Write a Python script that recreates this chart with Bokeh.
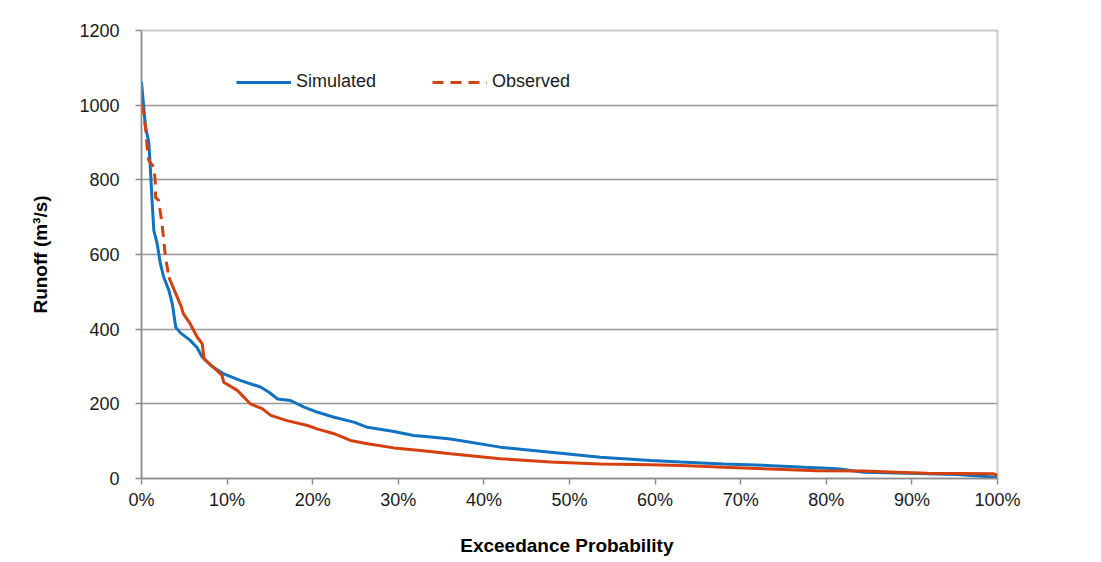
from bokeh.plotting import figure
from bokeh.models import Legend, LegendItem, NumeralTickFormatter, FixedTicker, Range1d
from bokeh.embed import file_html
from bokeh.resources import INLINE

# Exceedance probability (fraction) and runoff (m3/s)
sim_x = [0.0, 0.0047, 0.0085, 0.0105, 0.0125, 0.0144, 0.0183, 0.022, 0.026, 0.032, 0.036,
         0.040, 0.0455, 0.057, 0.065, 0.071, 0.081, 0.096, 0.116, 0.139, 0.149, 0.159,
         0.174, 0.190, 0.205, 0.225, 0.248, 0.264, 0.295, 0.318, 0.338, 0.361, 0.419,
         0.478, 0.536, 0.595, 0.630, 0.680, 0.731, 0.774, 0.813, 0.844, 0.894, 0.953,
         0.995, 1.0]
sim_y = [1062, 941, 901, 825, 737, 664, 629, 576, 539, 504, 468,
         405, 390, 370, 350, 325, 303, 280, 262, 245, 231, 213,
         209, 191, 178, 164, 151, 137, 126, 115, 111, 106, 84,
         70, 57, 48, 44, 39, 35, 30, 26, 17, 14, 11,
         4, 3]

obs_x = [0.0008, 0.0047, 0.0066, 0.0085, 0.0144, 0.016, 0.0164, 0.020, 0.024, 0.028,
         0.032, 0.040, 0.046, 0.049, 0.057, 0.059, 0.065, 0.071, 0.073, 0.084, 0.094,
         0.096, 0.112, 0.127, 0.141, 0.151, 0.170, 0.194, 0.205, 0.225, 0.244, 0.264,
         0.295, 0.326, 0.361, 0.419, 0.478, 0.536, 0.595, 0.630, 0.653, 0.680, 0.727,
         0.789, 0.844, 0.883, 0.918, 0.995, 1.0]
obs_y = [1004, 941, 888, 852, 834, 798, 753, 745, 682, 593,
         539, 495, 463, 441, 414, 405, 379, 361, 321, 298, 276,
         258, 236, 200, 187, 169, 155, 142, 133, 120, 102, 93,
         82, 75, 66, 53, 44, 39, 37, 35, 33, 30, 26,
         21, 20, 17, 14, 13, 8]

y_ticks = [0, 200, 400, 600, 800, 1000, 1200]
x_ticks = [0.0, 0.1, 0.2, 0.3, 0.4, 0.5, 0.6, 0.7, 0.8, 0.9, 1.0]

BLUE = "#1172c2"
RED = "#d4400e"
FONT = "Liberation Sans"

p = figure(width=1093, height=560, output_backend="svg", toolbar_location=None,
           x_range=Range1d(0, 1), y_range=Range1d(0, 1200),
           min_border_left=141, min_border_right=96, min_border_top=30, min_border_bottom=82)

p.background_fill_color = "white"
p.border_fill_color = "white"
p.outline_line_color = "#cccccc"
p.outline_line_width = 2

# grid
p.xgrid.grid_line_color = None
p.ygrid.grid_line_color = "#999999"
p.ygrid.grid_line_width = 1.5
p.ygrid.ticker = FixedTicker(ticks=y_ticks)

# axes
for ax in (p.xaxis[0], p.yaxis[0]):
    ax.axis_line_color = "#8c8c8c"
    ax.axis_line_width = 1.5
    ax.major_tick_line_color = "#8c8c8c"
    ax.major_tick_line_width = 1.5
    ax.major_tick_out = 6
    ax.major_tick_in = 0
    ax.minor_tick_line_color = None
    ax.major_label_text_font = FONT
    ax.major_label_text_font_size = "18px"
    ax.major_label_text_color = "#1a1a1a"
    ax.axis_label_text_font = FONT
    ax.axis_label_text_font_size = "19px"
    ax.axis_label_text_font_style = "bold"
    ax.axis_label_text_color = "#000000"

p.xaxis.ticker = FixedTicker(ticks=x_ticks)
p.xaxis.formatter = NumeralTickFormatter(format="0%")
p.xaxis.major_label_standoff = 5
p.xaxis.axis_label = "Exceedance  Probability"
p.xaxis.axis_label_standoff = 22

p.yaxis.ticker = FixedTicker(ticks=y_ticks)
p.yaxis.major_label_standoff = 16
p.yaxis.axis_label = "Runoff (m³/s)"
p.yaxis.axis_label_standoff = 25

# series
r_sim = p.line(sim_x, sim_y, line_color=BLUE, line_width=3)

split = 11  # observed is drawn dashed where its points are sparse (top of the curve)
r_obs_d = p.line(obs_x[:split], obs_y[:split], line_color=RED, line_width=3, line_dash="11 7")
r_obs_s = p.line(obs_x[split - 1:], obs_y[split - 1:], line_color=RED, line_width=3)

legend = Legend(items=[LegendItem(label="Simulated", renderers=[r_sim]),
                       LegendItem(label="Observed", renderers=[r_obs_d])],
                orientation="horizontal", location=(95, 386),
                background_fill_alpha=0, border_line_color=None,
                padding=0, margin=0, spacing=56, label_standoff=5,
                glyph_width=55, glyph_height=18,
                label_text_font=FONT, label_text_font_size="18px",
                label_text_color="#1a1a1a")
p.add_layout(legend)

open("out.html", "w").write(file_html(p, INLINE))
